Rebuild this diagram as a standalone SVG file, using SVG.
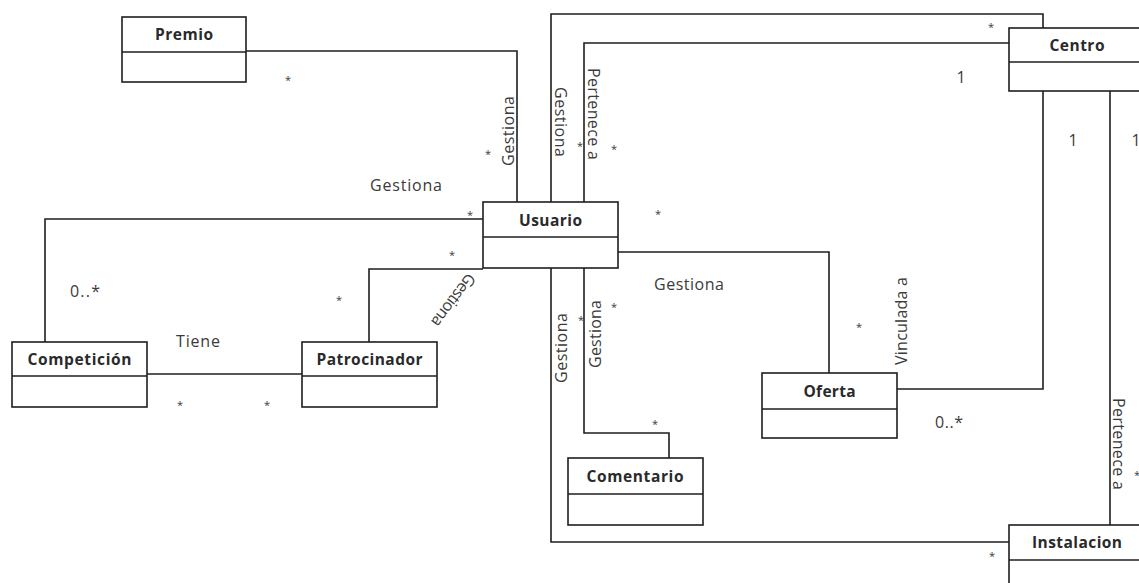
<svg xmlns="http://www.w3.org/2000/svg" width="1139" height="583" viewBox="0 0 1139 583">
  <style>
    .box { fill: #ffffff; stroke: #1e1e1e; stroke-width: 1.6; }
    .div { stroke: #1e1e1e; stroke-width: 1.6; }
    .conn { fill: none; stroke: #1e1e1e; stroke-width: 1.6; }
    .name { font-family: "Open Sans", "DejaVu Sans", sans-serif; font-weight: bold; font-size: 15.5px; fill: #2a2a2a; text-anchor: middle; }
    .lbl { font-family: "Open Sans", "DejaVu Sans", sans-serif; font-size: 16px; fill: #3a3a3a; }
    .mid { text-anchor: middle; }
    .mult { font-family: "Open Sans", "DejaVu Sans", sans-serif; font-size: 11px; fill: #3a3a3a; text-anchor: middle; }
  </style>
  <rect width="1139" height="583" fill="#ffffff"/>

  <!-- associations -->
  <g id="connectors">
    <path class="conn" d="M246,51 H517 V202"/>
    <path class="conn" d="M551,202 V14 H1043 V28"/>
    <path class="conn" d="M584,202 V43 H1009"/>
    <path class="conn" d="M483,219 H45 V342"/>
    <path class="conn" d="M483,269 H369 V342"/>
    <path class="conn" d="M147,374 H302"/>
    <path class="conn" d="M618,252 H829 V373"/>
    <path class="conn" d="M897,389 H1043 V91"/>
    <path class="conn" d="M1110,91 V525"/>
    <path class="conn" d="M584,268 V433 H669 V458"/>
    <path class="conn" d="M551,268 V542 H1009"/>

    <!-- role names -->
    <text class="lbl mid" transform="translate(514,131) rotate(-90)" textLength="70">Gestiona</text>
    <text class="lbl mid" transform="translate(555,122) rotate(90)" textLength="70">Gestiona</text>
    <text class="lbl mid" transform="translate(588,114) rotate(90)" textLength="92">Pertenece a</text>
    <text class="lbl" x="370" y="191" textLength="72">Gestiona</text>
    <text class="lbl mid" transform="translate(449,297) rotate(127)" textLength="62">Gestiona</text>
    <text class="lbl" x="176" y="347" textLength="44">Tiene</text>
    <text class="lbl" x="654" y="290" textLength="70">Gestiona</text>
    <text class="lbl mid" transform="translate(567,348) rotate(-90)" textLength="70">Gestiona</text>
    <text class="lbl mid" transform="translate(601,334) rotate(-90)" textLength="68">Gestiona</text>
    <text class="lbl mid" transform="translate(907,321) rotate(-90)" textLength="88">Vinculada a</text>
    <text class="lbl mid" transform="translate(1113,444) rotate(90)" textLength="92">Pertenece a</text>

    <!-- multiplicities -->
    <text class="mult" x="288" y="84">*</text>
    <text class="mult" x="488" y="158">*</text>
    <text class="mult" x="580" y="150">*</text>
    <text class="mult" x="614" y="153">*</text>
    <text class="mult" x="658" y="218">*</text>
    <text class="mult" x="991" y="31">*</text>
    <text class="mult" x="470" y="219">*</text>
    <text class="mult" x="452" y="259">*</text>
    <text class="mult" x="339" y="304">*</text>
    <text class="mult" x="180" y="409">*</text>
    <text class="mult" x="267" y="409">*</text>
    <text class="mult" x="581" y="324">*</text>
    <text class="mult" x="614" y="311">*</text>
    <text class="mult" x="859" y="331">*</text>
    <text class="mult" x="655" y="428">*</text>
    <text class="mult" x="992" y="560">*</text>
    <text class="mult" x="1137" y="479">*</text>
    <text class="lbl" x="70" y="297" textLength="30">0..*</text>
    <text class="lbl" x="935" y="428" textLength="28">0..*</text>
    <text class="lbl mid" x="961" y="83">1</text>
    <text class="lbl mid" x="1073" y="146">1</text>
    <text class="lbl mid" x="1136" y="146">1</text>
  </g>

  <!-- classes -->
  <g id="premio">
    <rect class="box" x="122" y="17" width="124" height="65"/>
    <line class="div" x1="122" y1="52" x2="246" y2="52"/>
    <text class="name" x="184" y="40" textLength="58">Premio</text>
  </g>
  <g id="usuario">
    <rect class="box" x="483" y="202" width="135" height="66"/>
    <line class="div" x1="483" y1="237" x2="618" y2="237"/>
    <text class="name" x="550.5" y="226" textLength="63">Usuario</text>
  </g>
  <g id="centro">
    <rect class="box" x="1009" y="28" width="136" height="63"/>
    <line class="div" x1="1009" y1="62" x2="1145" y2="62"/>
    <text class="name" x="1077" y="51" textLength="55">Centro</text>
  </g>
  <g id="competicion">
    <rect class="box" x="12" y="342" width="135" height="65"/>
    <line class="div" x1="12" y1="376" x2="147" y2="376"/>
    <text class="name" x="79.5" y="365" textLength="104">Competición</text>
  </g>
  <g id="patrocinador">
    <rect class="box" x="302" y="342" width="135" height="65"/>
    <line class="div" x1="302" y1="376" x2="437" y2="376"/>
    <text class="name" x="369.5" y="365" textLength="106">Patrocinador</text>
  </g>
  <g id="oferta">
    <rect class="box" x="762" y="373" width="135" height="65"/>
    <line class="div" x1="762" y1="409" x2="897" y2="409"/>
    <text class="name" x="829.5" y="397" textLength="52">Oferta</text>
  </g>
  <g id="comentario">
    <rect class="box" x="568" y="458" width="135" height="67"/>
    <line class="div" x1="568" y1="494" x2="703" y2="494"/>
    <text class="name" x="635" y="482" textLength="97">Comentario</text>
  </g>
  <g id="instalacion">
    <rect class="box" x="1009" y="525" width="136" height="70"/>
    <line class="div" x1="1009" y1="560" x2="1145" y2="560"/>
    <text class="name" x="1077" y="548" textLength="90">Instalacion</text>
  </g>
</svg>
